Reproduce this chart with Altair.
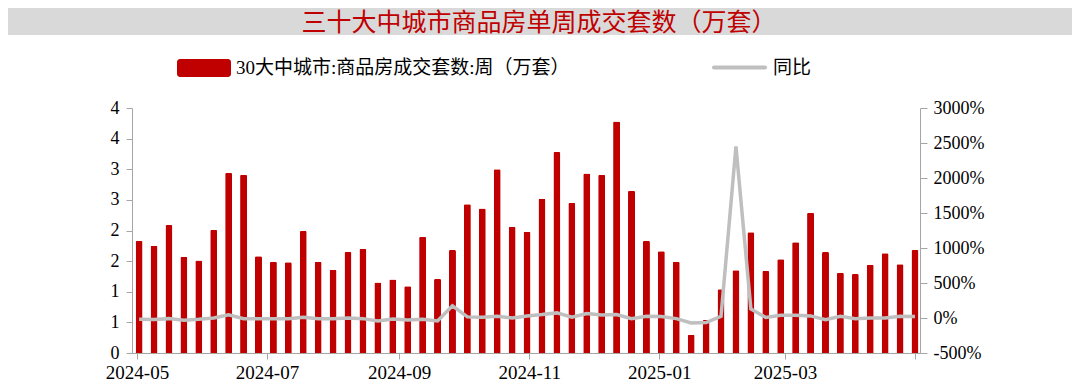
import altair as alt
import pandas as pd

dates = [
    "2024-05-02", "2024-05-09", "2024-05-16", "2024-05-23", "2024-05-30",
    "2024-06-06", "2024-06-13", "2024-06-20", "2024-06-27",
    "2024-07-04", "2024-07-11", "2024-07-18", "2024-07-25",
    "2024-08-01", "2024-08-08", "2024-08-15", "2024-08-22", "2024-08-29",
    "2024-09-05", "2024-09-12", "2024-09-19", "2024-09-26",
    "2024-10-03", "2024-10-10", "2024-10-17", "2024-10-24", "2024-10-31",
    "2024-11-07", "2024-11-14", "2024-11-21", "2024-11-28",
    "2024-12-05", "2024-12-12", "2024-12-19", "2024-12-26",
    "2025-01-02", "2025-01-09", "2025-01-16", "2025-01-23", "2025-01-30",
    "2025-02-06", "2025-02-13", "2025-02-20", "2025-02-27",
    "2025-03-06", "2025-03-13", "2025-03-20", "2025-03-27",
    "2025-04-03", "2025-04-10", "2025-04-17", "2025-04-24", "2025-05-01",
]

volume = [
    1.83, 1.75, 2.09, 1.57, 1.51, 2.01, 2.94, 2.91, 1.58, 1.49,
    1.48, 1.99, 1.49, 1.36, 1.65, 1.70, 1.15, 1.20, 1.09, 1.90,
    1.21, 1.68, 2.43, 2.36, 3.00, 2.06, 1.98, 2.52, 3.28, 2.45,
    2.93, 2.91, 3.78, 2.65, 1.83, 1.66, 1.49, 0.30, 0.54, 1.04,
    1.35, 1.97, 1.34, 1.53, 1.81, 2.29, 1.65, 1.31, 1.29, 1.44,
    1.63, 1.45, 1.68,
]

yoy = [
    -19, -23, -9, -33, -19, 0, 47, -9, -9, -9,
    -9, 10, -9, -9, 0, -9, -43, -14, -28, -19,
    -42, 173, 16, 10, 25, 0, 30, 49, 73, 10,
    63, 44, 49, -9, 25, 20, -9, -70, -66, 25,
    2451, 130, 8, 40, 40, 30, -23, 25, -9, 0,
    0, 25, 20,
]

left_ticks = [0, 0.5, 1, 1.5, 2, 2.5, 3, 3.5, 4]
right_ticks = [-500, 0, 500, 1000, 1500, 2000, 2500, 3000]
x_tick_months = [(2024, 5), (2024, 7), (2024, 9), (2024, 11), (2025, 1), (2025, 3), (2025, 5)]

title_text = "三十大中城市商品房单周成交套数（万套）"
bar_label = "30大中城市:商品房成交套数:周（万套）"
line_label = "同比"

df = pd.DataFrame({"date": dates, "volume": volume, "yoy": yoy})
one = pd.DataFrame({"k": [0]})

RED = "#c00000"
GRAY = "#bfbfbf"
AXIS_GRAY = "#a6a6a6"
SERIF = "Liberation Serif, Noto Sans CJK SC"

x_scale = alt.Scale(
    type="utc",
    domain=[alt.DateTime(year=2024, month=5, date=1, utc=True),
            alt.DateTime(year=2025, month=5, date=1, utc=True)],
)

def make_x_axis():
    return alt.Axis(
        title=None,
        values=[alt.DateTime(year=y, month=m, date=1, utc=True) for y, m in x_tick_months],
        labelExpr="utcFormat(datum.value, '%Y-%m') == '2025-05' ? '' : utcFormat(datum.value, '%Y-%m')",
        labelFontSize=19,
        labelBaseline="alphabetic",
        labelPadding=19,
        tickSize=6,
        labelAngle=0,
    )

bars = alt.Chart(df).mark_bar(
    color=RED, size=7, cornerRadiusTopLeft=1.5, cornerRadiusTopRight=1.5
).encode(
    x=alt.X("date:T", scale=x_scale, axis=make_x_axis()),
    y=alt.Y(
        "volume:Q",
        scale=alt.Scale(domain=[0, 4], nice=False, zero=True),
        axis=alt.Axis(
            orient="left", title=None, values=left_ticks,
            labelExpr="'' + ceil(datum.value)", tickSize=6, labelPadding=7,
        ),
    ),
)

line = alt.Chart(df).mark_line(color=GRAY, strokeWidth=3.5).encode(
    x=alt.X("date:T", scale=x_scale, axis=make_x_axis()),
    y=alt.Y(
        "yoy:Q",
        scale=alt.Scale(domain=[-500, 3000], nice=False, zero=False),
        axis=alt.Axis(
            orient="right", title=None, values=right_ticks,
            labelExpr="datum.value + '%'", tickSize=7, labelPadding=6,
        ),
    ),
)

title_bg = alt.Chart(one).mark_rect(color="#d9d9d9").encode(
    x=alt.value(-124), x2=alt.value(940), y=alt.value(-100), y2=alt.value(-73)
)
title_txt = alt.Chart(one).mark_text(
    font="Noto Sans CJK SC", fontSize=25, color=RED, align="center", baseline="middle"
).encode(x=alt.value(407), y=alt.value(-85.5), text=alt.value(title_text))

leg_rect = alt.Chart(one).mark_rect(color=RED, cornerRadius=3).encode(
    x=alt.value(45), x2=alt.value(99), y=alt.value(-49), y2=alt.value(-31)
)
leg_rect_txt = alt.Chart(one).mark_text(
    font=SERIF, fontSize=19, color="#000000", align="left", baseline="middle"
).encode(x=alt.value(104), y=alt.value(-40), text=alt.value(bar_label))

leg_line = alt.Chart(one).mark_rule(color=GRAY, strokeWidth=4, strokeCap="round").encode(
    x=alt.value(582), x2=alt.value(633), y=alt.value(-40.5)
)
leg_line_txt = alt.Chart(one).mark_text(
    font=SERIF, fontSize=19, color="#000000", align="left", baseline="middle"
).encode(x=alt.value(641), y=alt.value(-40), text=alt.value(line_label))

chart = alt.layer(
    title_bg, title_txt, leg_rect, leg_rect_txt, leg_line, leg_line_txt, bars, line
).resolve_scale(
    y="independent"
).properties(
    width=788,
    height=245,
    autosize=alt.AutoSizeParams(type="none"),
    padding={"left": 124, "top": 100, "right": 152, "bottom": 31},
).configure_view(
    stroke=None
).configure_axis(
    grid=False,
    domainColor=AXIS_GRAY,
    tickColor=AXIS_GRAY,
    labelFont="Liberation Serif",
    labelColor="#000000",
    labelFontSize=18,
)

chart.save("out.html", embed_options={"renderer": "svg", "actions": False})
